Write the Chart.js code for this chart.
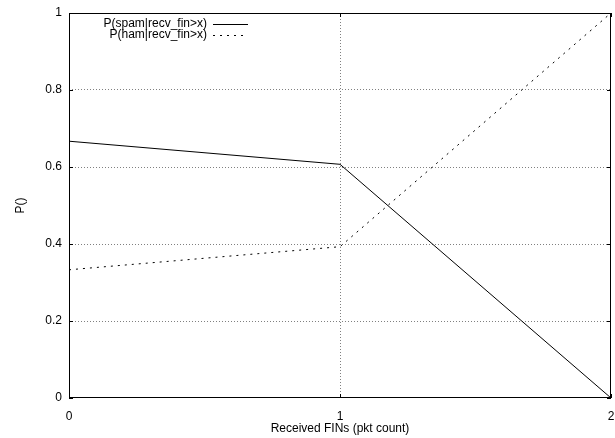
<!DOCTYPE html>
<html>
<head>
<meta charset="utf-8">
<script src="https://cdn.jsdelivr.net/npm/chart.js@4/dist/chart.umd.min.js"></script>
<style>
html,body{margin:0;padding:0;background:#fff;}
#wrap{width:615px;height:438px;}
</style>
</head>
<body>
<div id="wrap"><canvas id="c" width="615" height="438"></canvas></div>
<script>
const xValues = [0, 1, 2];
const spamValues = [0.667, 0.607, 0.0];
const hamValues = [0.333, 0.393, 1.0];
const seriesLabels = ['P(spam|recv_fin>x)', 'P(ham|recv_fin>x)'];
const xTicks = [0, 1, 2];
const yTicks = [0, 0.2, 0.4, 0.6, 0.8, 1];
const xTitle = 'Received FINs (pkt count)';
const yTitle = 'P()';

const FONT = 'Liberation Sans, Arial, Helvetica, sans-serif';
const FS = 12;

function pts(xs, ys){ return xs.map((x,i)=>({x:x, y:ys[i]})); }

const framePlugin = {
  id: 'frame',
  afterDatasetsDraw(chart){
    const ctx = chart.ctx;
    const a = chart.chartArea;
    const xs = chart.scales.x, ys = chart.scales.y;
    ctx.save();
    ctx.strokeStyle = '#000';
    ctx.lineWidth = 1;
    ctx.setLineDash([]);
    ctx.strokeRect(Math.round(a.left)+0.5, Math.round(a.top)+0.5, Math.round(a.right-a.left)-1, Math.round(a.bottom-a.top)-1);
    ctx.beginPath();
    yTicks.forEach(v=>{
      const y = Math.round(ys.getPixelForValue(v))+0.5;
      ctx.moveTo(a.left, y); ctx.lineTo(a.left+4, y);
      ctx.moveTo(a.right, y); ctx.lineTo(a.right-4, y);
    });
    xTicks.forEach(v=>{
      const x = Math.round(xs.getPixelForValue(v))+0.5;
      ctx.moveTo(x, a.bottom); ctx.lineTo(x, a.bottom-4);
      ctx.moveTo(x, a.top); ctx.lineTo(x, a.top+4);
    });
    ctx.stroke();
    ctx.font = FS + 'px ' + FONT;
    ctx.fillStyle = '#000';
    ctx.textAlign = 'right';
    ctx.textBaseline = 'middle';
    const rows = [24, 35];
    chart.data.datasets.forEach((ds, i)=>{
      const y = rows[i];
      ctx.fillText(ds.label, 207, y);
      ctx.beginPath();
      ctx.setLineDash(ds.borderDash || []);
      ctx.strokeStyle = ds.borderColor;
      ctx.lineWidth = 1;
      ctx.moveTo(213, y+0.5); ctx.lineTo(248, y+0.5);
      ctx.stroke();
    });
    ctx.restore();
  }
};

new Chart(document.getElementById('c'), {
  type: 'line',
  data: {
    datasets: [
      { label: seriesLabels[0], data: pts(xValues, spamValues), borderColor: '#000', borderWidth: 1, pointRadius: 0, tension: 0, fill: false },
      { label: seriesLabels[1], data: pts(xValues, hamValues), borderColor: '#000', borderWidth: 1, borderDash: [2,5], pointRadius: 0, tension: 0, fill: false }
    ]
  },
  options: {
    responsive: false,
    animation: false,
    devicePixelRatio: 1,
    layout: { padding: { top: 13, right: 4, left: 0, bottom: 0 } },
    plugins: { legend: { display: false }, tooltip: { enabled: false } },
    scales: {
      x: {
        type: 'linear', min: 0, max: 2,
        afterBuildTicks: s => { s.ticks = xTicks.map(v=>({value:v})); },
        afterFit: s => { s.height = 40; s.paddingLeft = 0; s.paddingRight = 4; },
        ticks: { padding: 11, color: '#000', font: { family: FONT, size: FS }, callback: v => String(v), maxRotation: 0 },
        grid: {
          drawTicks: false,
          color: ctx => (ctx.tick && ctx.tick.value > 0 && ctx.tick.value < 2) ? '#808080' : 'rgba(0,0,0,0)',
          lineWidth: 1
        },
        border: { display: false, dash: [1,2] },
        title: { display: true, text: xTitle, color: '#000', font: { family: FONT, size: FS }, padding: { top: 0, bottom: 2 } }
      },
      y: {
        type: 'linear', min: 0, max: 1,
        afterBuildTicks: s => { s.ticks = yTicks.map(v=>({value:v})); },
        afterFit: s => { s.width = 69; s.paddingTop = 0; s.paddingBottom = 0; },
        ticks: { padding: 7, color: '#000', font: { family: FONT, size: FS }, callback: v => String(Math.round(v*10)/10) },
        grid: {
          drawTicks: false,
          color: ctx => (ctx.tick && ctx.tick.value > 0 && ctx.tick.value < 1) ? '#808080' : 'rgba(0,0,0,0)',
          lineWidth: 1
        },
        border: { display: false, dash: [1,2] },
        title: { display: true, text: yTitle, color: '#000', font: { family: FONT, size: FS }, padding: { top: 13, bottom: 0 } }
      }
    }
  },
  plugins: [framePlugin]
});
</script>
</body>
</html>
